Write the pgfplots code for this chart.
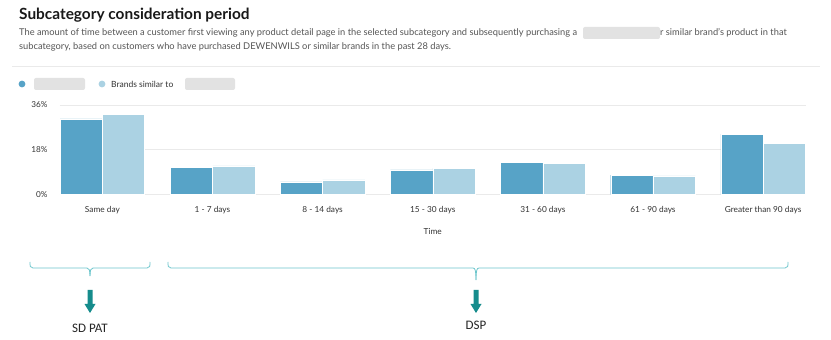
\documentclass[border=0pt]{standalone}
\usepackage{pgfplots}
\pgfplotsset{compat=1.18}
\usepackage{fontspec}
\setmainfont{Lato}
\newfontfamily\carl{Carlito}
\definecolor{darkbar}{HTML}{57A3C7}
\definecolor{lightbar}{HTML}{ABD2E3}
\definecolor{gridc}{HTML}{EAEAEA}
\definecolor{blurc}{HTML}{E2E2E2}
\definecolor{bracec}{HTML}{6CC6CC}
\definecolor{arrowc}{HTML}{168C8C}
\definecolor{subc}{HTML}{555555}
\definecolor{labc}{HTML}{333333}
\begin{document}
\begin{tikzpicture}[x=1pt,y=1pt]
\path[use as bounding box, fill=white] (0,0) rectangle (831,340);
% title
\node[anchor=base west, inner sep=0pt, text=black!90] at (19,320) {\fontsize{15.4}{18}\selectfont\bfseries Subcategory consideration period};
\node[anchor=base west, inner sep=0pt, text=subc] at (19,304) {\fontsize{9.3}{11}\selectfont The amount of time between a customer first viewing any product detail page in the selected subcategory and subsequently purchasing a};
\fill[blurc, rounded corners=2pt] (583,301) rectangle (660,313);
\node[anchor=base west, inner sep=0pt, text=subc] at (660,304) {\fontsize{9.3}{11}\selectfont r similar brand's product in that};
\node[anchor=base west, inner sep=0pt, text=subc] at (19,290) {\fontsize{9.3}{11}\selectfont subcategory, based on customers who have purchased DEWENWILS or similar brands in the past 28 days.};
\draw[gridc, line width=0.8pt] (12,274) -- (820,274);
% legend
\fill[darkbar] (22,256) circle (3.4);
\fill[blurc, rounded corners=2pt] (34,250) rectangle (85,262);
\fill[lightbar] (102,256) circle (3.4);
\node[anchor=west, inner sep=0pt, text=labc] at (111,256) {\fontsize{8.5}{10}\selectfont Brands similar to};
\fill[blurc, rounded corners=2pt] (185,250) rectangle (235,262);
\begin{axis}[
  at={(60pt,145.7pt)}, anchor=south west,
  scale only axis, width=745.5pt, height=89.3pt,
  xmin=-0.385, xmax=6.385, ymin=0, ymax=36,
  ytick={0,18,36}, yticklabels={0\%,18\%,36\%},
  xtick={0,1,2,3,4,5,6},
  xticklabels={Same day,1 - 7 days,8 - 14 days,15 - 30 days,31 - 60 days,61 - 90 days,Greater than 90 days},
  axis line style={draw=none}, major tick style={draw=none},
  ymajorgrids, grid style={gridc, line width=0.8pt},
  yticklabel style={font=\fontsize{8.2}{9}\selectfont, text=labc, xshift=-9pt},
  xticklabel style={font=\fontsize{8.3}{9}\selectfont, text=labc, yshift=-9pt},
  xlabel={Time}, xlabel style={font=\fontsize{8.3}{9}\selectfont, text=labc, yshift=-7pt},
  /pgf/number format/assume math mode=true,
  clip=false,
]
\addplot[ybar, bar width=0.384, bar shift=-0.192, fill=darkbar, draw=white, line width=0.4pt] coordinates {(0,30.4) (1,10.8) (2,5.0) (3,9.8) (4,13.0) (5,7.7) (6,24.3)};
\addplot[ybar, bar width=0.384, bar shift=0.192, fill=lightbar, draw=white, line width=0.4pt] coordinates {(0,32.2) (1,11.5) (2,5.8) (3,10.6) (4,12.6) (5,7.4) (6,20.6)};
\end{axis}
% braces
\draw[bracec, line width=0.8pt] (30,78) .. controls (30,74) and (30,72) .. (33,72) -- (87,72) .. controls (89,72) and (90,70) .. (90,64);
\draw[bracec, line width=0.8pt] (150,78) .. controls (150,74) and (150,72) .. (147,72) -- (93,72) .. controls (91,72) and (90,70) .. (90,64);
\draw[bracec, line width=0.8pt] (168,78) .. controls (168,74) and (168,72) .. (171,72) -- (473,72) .. controls (475,72) and (476,70) .. (476,60);
\draw[bracec, line width=0.8pt] (788,78) .. controls (788,74) and (788,72) .. (785,72) -- (479,72) .. controls (477,72) and (476,70) .. (476,60);
% arrows
\fill[arrowc] (87.5,50) -- (92.5,50) -- (92.5,36) -- (95.5,36) -- (90,27) -- (84.5,36) -- (87.5,36) -- cycle;
\fill[arrowc] (473.5,50) -- (478.5,50) -- (478.5,36) -- (481.5,36) -- (476,27) -- (470.5,36) -- (473.5,36) -- cycle;
\node[inner sep=0pt, text=black!85] at (90,12) {\carl\fontsize{13}{15}\selectfont SD PAT};
\node[inner sep=0pt, text=black!85] at (476,15) {\carl\fontsize{13}{15}\selectfont DSP};
\end{tikzpicture}
\end{document}
